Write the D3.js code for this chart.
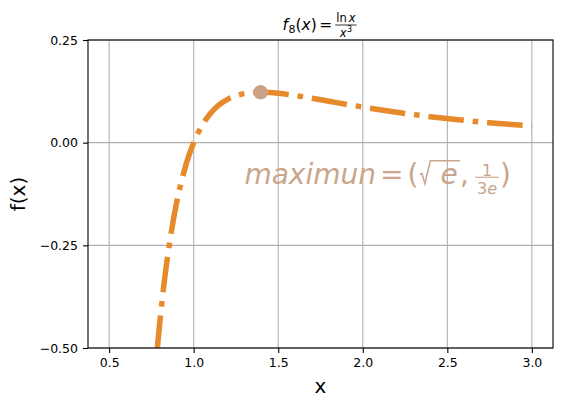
<!DOCTYPE html>
<html>
<head>
<meta charset="utf-8">
<script src="https://cdn.jsdelivr.net/npm/d3@7"></script>
<style>
  html, body { margin: 0; padding: 0; background: #fff; }
  svg { display: block; font-family: "DejaVu Sans", sans-serif; }
</style>
</head>
<body>
<svg id="chart" width="562" height="407"></svg>
<script>
// ---- data ----
const xValues = [0.5, 0.6, 0.7, 0.72, 0.74, 0.76, 0.78, 0.8, 0.82, 0.84, 0.86, 0.88, 0.9, 0.92, 0.94, 0.96, 0.98, 1.0,
  1.05, 1.1, 1.15, 1.2, 1.25, 1.3, 1.35, 1.4, 1.45, 1.5, 1.6, 1.7, 1.8, 1.9, 2.0, 2.2, 2.4, 2.6, 2.8, 3.0];
const yValues = [-5.5452, -2.3649, -1.0399, -0.8801, -0.7431, -0.6252, -0.5236, -0.4358, -0.3599, -0.2942, -0.2371, -0.1876,
  -0.1445, -0.1071, -0.0745, -0.0461, -0.0215, 0.0,
  0.04215, 0.07161, 0.0919, 0.10551, 0.11425, 0.11942, 0.12197, 0.12262, 0.12188, 0.12014, 0.11475, 0.10801, 0.10079,
  0.09358, 0.08664, 0.07405, 0.06333, 0.05436, 0.0469, 0.04069];
const maxPointX = [1.3956];
const maxPointY = [0.1226];
const annotationPos = [1.3, -0.1];
const xTicks = [0.5, 1.0, 1.5, 2.0, 2.5, 3.0];
const xTickLabels = ["0.5", "1.0", "1.5", "2.0", "2.5", "3.0"];
const yTicks = [-0.5, -0.25, 0.0, 0.25];
const yTickLabels = ["\u22120.50", "\u22120.25", "0.00", "0.25"];
const xDomain = [0.375, 3.125];
const yDomain = [-0.5, 0.25];

// ---- layout ----
const L = 88, R = 553, T = 40, B = 348;
const lineColor = "#e68a2b";
const pointColor = "#c9a284";
const textColor = "#c9a68b";
const gridColor = "#b0b0b0";

const svg = d3.select("#chart");
const x = d3.scaleLinear().domain(xDomain).range([L, R]);
const y = d3.scaleLinear().domain(yDomain).range([B, T]);

svg.append("defs").append("clipPath").attr("id", "clip")
  .append("rect").attr("x", L).attr("y", T).attr("width", R - L).attr("height", B - T);

// grid
const grid = svg.append("g");
grid.selectAll("line.gx").data(xTicks).enter().append("line")
  .attr("x1", d => x(d)).attr("x2", d => x(d)).attr("y1", T).attr("y2", B)
  .attr("stroke", gridColor).attr("stroke-width", 1.1);
grid.selectAll("line.gy").data(yTicks).enter().append("line")
  .attr("y1", d => y(d)).attr("y2", d => y(d)).attr("x1", L).attr("x2", R)
  .attr("stroke", gridColor).attr("stroke-width", 1.1);

// axes
const xAxis = d3.axisBottom(x).tickValues(xTicks).tickFormat((d, i) => xTickLabels[i]).tickSize(5).tickPadding(5);
const yAxis = d3.axisLeft(y).tickValues(yTicks).tickFormat((d, i) => yTickLabels[i]).tickSize(5).tickPadding(5);
const gx = svg.append("g").attr("transform", `translate(0,${B})`).call(xAxis);
const gy = svg.append("g").attr("transform", `translate(${L},0)`).call(yAxis);
[gx, gy].forEach(g => {
  g.select(".domain").remove();
  g.selectAll("text").attr("font-family", "DejaVu Sans").attr("font-size", 12.5).attr("fill", "#000");
  g.selectAll(".tick line").attr("stroke", "#000").attr("stroke-width", 1.1);
});

// line
const pts = xValues.map((v, i) => [v, yValues[i]]);
const lineGen = d3.line().x(d => x(d[0])).y(d => y(d[1])).curve(d3.curveMonotoneX);
const path = svg.append("path")
  .attr("clip-path", "url(#clip)")
  .attr("d", lineGen(pts))
  .attr("fill", "none")
  .attr("stroke", lineColor)
  .attr("stroke-width", 5.5)
  .attr("stroke-linecap", "butt")
  .attr("stroke-dasharray", "35.6,8.9,5.6,8.9");
// align the dash pattern so that a dash starts where the curve enters the axes
(function () {
  const node = path.node();
  const total = node.getTotalLength();
  let lo = 0, hi = total;
  for (let k = 0; k < 40; k++) {
    const mid = (lo + hi) / 2;
    if (node.getPointAtLength(mid).y > B + 3) lo = mid; else hi = mid;
  }
  path.attr("stroke-dashoffset", -lo);
})();

// max point
svg.append("g").selectAll("circle").data(maxPointX).enter().append("circle")
  .attr("cx", d => x(d)).attr("cy", (d, i) => y(maxPointY[i])).attr("r", 7.3)
  .attr("fill", pointColor);

// spines
svg.append("rect").attr("x", L).attr("y", T).attr("width", R - L).attr("height", B - T)
  .attr("fill", "none").attr("stroke", "#000").attr("stroke-width", 1.1);

// helper: sequential layout of text pieces
function addPiece(g, xpos, baseline, txt, size, italic, color) {
  const t = g.append("text").attr("x", xpos).attr("y", baseline)
    .attr("font-family", "DejaVu Sans").attr("font-size", size)
    .attr("font-style", italic ? "italic" : "normal").attr("fill", color)
    .style("white-space", "pre").text(txt);
  return t.node().getComputedTextLength();
}

// title: f_8(x) = ln x / x^3
(function () {
  const g = svg.append("g");
  let cx = 0;
  const base = 30;
  const s = 15.5;
  cx += addPiece(g, cx, base, "f", s, true, "#000") + 0.5;
  cx += addPiece(g, cx, base + 3, "8", 11, false, "#000");
  cx += addPiece(g, cx, base, "(", s, false, "#000");
  cx += addPiece(g, cx, base, "x", s, true, "#000");
  cx += addPiece(g, cx, base, ")", s, false, "#000");
  cx += 2.5;
  cx += addPiece(g, cx, base, "=", s, false, "#000");
  cx += 3;
  // fraction
  const num = g.append("g"), den = g.append("g");
  let nw = addPiece(num, 0, 21.5, "ln", 11.5, false, "#000");
  nw += 2;
  nw += addPiece(num, nw, 21.5, "x", 11.5, true, "#000");
  let dw = addPiece(den, 0, 36.5, "x", 11.5, true, "#000");
  dw += addPiece(den, dw + 0.5, 31.5, "3", 8, false, "#000") + 0.5;
  const fw = Math.max(nw, dw) + 2;
  num.attr("transform", `translate(${cx + (fw - nw) / 2},0)`);
  den.attr("transform", `translate(${cx + (fw - dw) / 2},0)`);
  g.append("line").attr("x1", cx).attr("x2", cx + fw).attr("y1", 25).attr("y2", 25)
    .attr("stroke", "#000").attr("stroke-width", 0.8);
  cx += fw;
  const center = (L + R) / 2 - 1;
  g.attr("transform", `translate(${center - cx / 2},0)`);
})();

// annotation: maximun = (sqrt(e), 1/(3e))
(function () {
  const g = svg.append("g");
  const x0 = x(annotationPos[0]);
  const base = y(annotationPos[1]);
  const s = 28;
  let cx = x0;
  cx += addPiece(g, cx, base, "maximun", s, true, textColor);
  cx += 4;
  cx += addPiece(g, cx, base, "=", s, false, textColor);
  cx += 4;
  cx += addPiece(g, cx, base, "(", s, false, textColor);
  // radical sign drawn as a path
  const eStart = cx + 22;
  const eW = addPiece(g, eStart, base, "e", s, true, textColor);
  const top = base - 23;
  g.append("path")
    .attr("d", `M${cx + 1.5},${base - 9} L${cx + 3.5},${base - 10.5} L${cx + 6.5},${base} L${cx + 12},${top} L${eStart + eW + 2.5},${top}`)
    .attr("fill", "none").attr("stroke", textColor).attr("stroke-width", 1.5).attr("stroke-linejoin", "miter");
  cx = eStart + eW + 2.5;
  cx += addPiece(g, cx, base, ",", s, false, textColor);
  cx += 6;
  const fs = 16;
  const num = g.append("g"), den = g.append("g");
  const nw = addPiece(num, 0, base - 8, "1", fs, false, textColor);
  let dw = addPiece(den, 0, base + 10, "3", fs, false, textColor);
  dw += addPiece(den, dw, base + 10, "e", fs, true, textColor);
  const fw = Math.max(nw, dw) + 4;
  num.attr("transform", `translate(${cx + (fw - nw) / 2},0)`);
  den.attr("transform", `translate(${cx + (fw - dw) / 2},0)`);
  g.append("line").attr("x1", cx).attr("x2", cx + fw).attr("y1", base - 6.5).attr("y2", base - 6.5)
    .attr("stroke", textColor).attr("stroke-width", 1.1);
  cx += fw + 1;
  addPiece(g, cx, base, ")", s, false, textColor);
})();

// axis labels
svg.append("text").attr("x", (L + R) / 2).attr("y", 393).attr("text-anchor", "middle")
  .attr("font-family", "DejaVu Sans").attr("font-size", 20).attr("fill", "#000").text("x");
svg.append("text").attr("transform", `translate(25,${(T + B) / 2}) rotate(-90)`).attr("text-anchor", "middle")
  .attr("font-family", "DejaVu Sans").attr("font-size", 20).attr("fill", "#000").text("f(x)");
</script>
</body>
</html>
